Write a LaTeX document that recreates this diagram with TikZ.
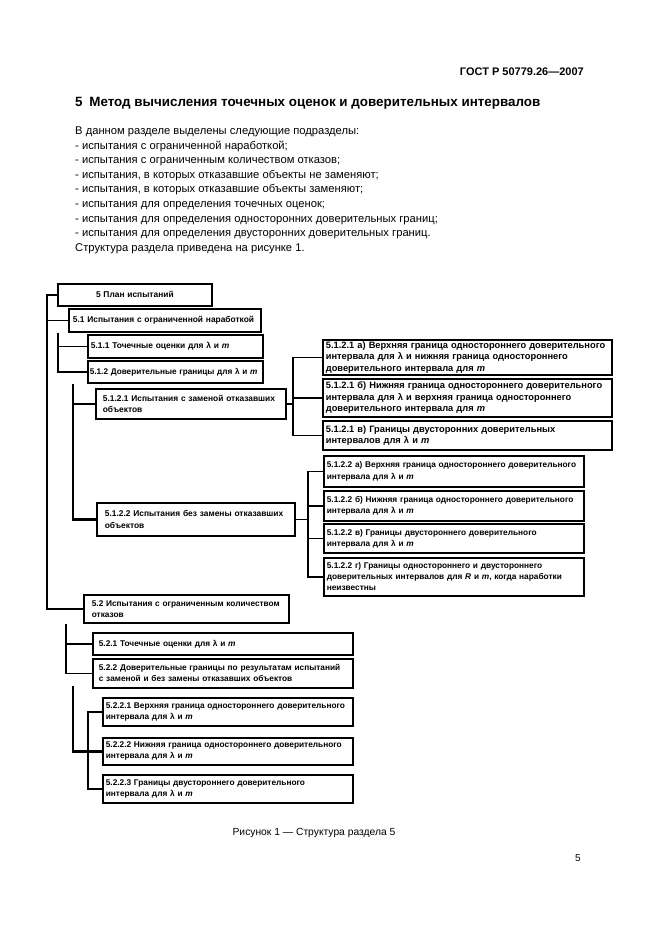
\documentclass[tikz,border=0pt]{standalone}
\usepackage{fontspec}
\setmainfont{Liberation Sans}

\newcommand{\bxa}{\fontsize{8.4}{11.5}\selectfont\bfseries}
\newcommand{\bxb}{\fontsize{8.3}{11}\selectfont\bfseries}
\newcommand{\bxc}{\fontsize{9.3}{11.5}\selectfont\bfseries}

\tikzset{
  box/.style={draw, line width=1.7pt, anchor=north west, align=left, inner ysep=1pt, font=\bxa},
  link/.style={line width=1.5pt},
  trunk/.style={line width=2.3pt},
  txt/.style={inner sep=0pt}
}

\begin{document}
\begin{tikzpicture}[x=1pt,y=-1pt]
				\useasboundingbox (0,0) rectangle (661,936);
				% page text
				\node[txt, anchor=base east, font=\bfseries\fontsize{11}{13}\selectfont] (hdr) at (584,76) {ГОСТ Р 50779.26—2007};
				\node[txt, anchor=base west, font=\bfseries\fontsize{13.4}{16}\selectfont] (ttl) at (75,107) {5\hspace{0.5em}Метод вычисления точечных оценок и доверительных интервалов};
				\foreach \t [count=\i] in {{В данном разделе выделены следующие подразделы:},
						{- испытания с ограниченной наработкой;},
						{- испытания с ограниченным количеством отказов;},
						{- испытания, в которых отказавшие объекты не заменяют;},
						{- испытания, в которых отказавшие объекты заменяют;},
						{- испытания для определения точечных оценок;},
						{- испытания для определения односторонних доверительных границ;},
						{- испытания для определения двусторонних доверительных границ.},
						{Структура раздела приведена на рисунке 1.}}
					\node[txt, anchor=base west, font=\fontsize{11.2}{13}\selectfont] (ln\i) at (75,120.5+14.5*\i) {\t};
				% boxes
				\node[box, align=center, text width=146pt, inner xsep=4pt, minimum height=22pt] (p5) at (57,283) {5 План испытаний};
				\node[box, text width=184pt, inner xsep=4pt, minimum height=23pt] (p51) at (68,308) {5.1 Испытания с ограниченной наработкой};
				\node[box, text width=169pt, inner xsep=3pt, minimum height=23pt] (p511) at (87,334) {5.1.1 Точечные оценки для λ и \textit{m}};
				\node[box, font=\fontsize{8.2}{11}\selectfont\bfseries, text width=171pt, inner xsep=2pt, minimum height=22pt] (p512) at (87,360) {5.1.2 Доверительные границы для λ и \textit{m}};
				\node[box, text width=176pt, inner xsep=7pt, minimum height=30pt] (p5121) at (95,388) {5.1.2.1 Испытания с заменой отказавших\\объектов};
				\node[box, text width=182pt, inner xsep=8pt, minimum height=33pt] (p5122) at (96,502) {5.1.2.2 Испытания без замены отказавших\\объектов};
				\node[box, font=\bxc, text width=283pt, inner xsep=3pt, minimum height=35pt] (a1) at (322,339) {5.1.2.1 а) Верхняя граница одностороннего доверительного\\интервала для λ и нижняя граница одностороннего\\доверительного интервала для \textit{m}};
				\node[box, font=\bxc, text width=283pt, inner xsep=3pt, minimum height=38pt] (b1) at (322,378) {5.1.2.1 б) Нижняя граница одностороннего доверительного\\интервала для λ и верхняя граница одностороннего\\доверительного интервала для \textit{m}};
				\node[box, font=\bxc, text width=283pt, inner xsep=3pt, minimum height=29pt] (c1) at (322,420) {5.1.2.1 в) Границы двусторонних доверительных\\интервалов для λ и \textit{m}};
				\node[box, font=\bxb, text width=254pt, inner xsep=3pt, minimum height=31pt] (a2) at (323,455) {5.1.2.2 а) Верхняя граница одностороннего доверительного\\интервала для λ и \textit{m}};
				\node[box, font=\bxb, text width=254pt, inner xsep=3pt, minimum height=30pt] (b2) at (323,490) {5.1.2.2 б) Нижняя граница одностороннего доверительного\\интервала для λ и \textit{m}};
				\node[box, font=\bxb, text width=254pt, inner xsep=3pt, minimum height=29pt] (c2) at (323,523) {5.1.2.2 в) Границы двустороннего доверительного\\интервала для λ и \textit{m}};
				\node[box, font=\bxb, text width=254pt, inner xsep=3pt, minimum height=38pt] (d2) at (323,557) {5.1.2.2 г) Границы одностороннего и двустороннего\\доверительных интервалов для \textit{R} и \textit{m}, когда наработки\\неизвестны};
				\node[box, font=\bxb, text width=189pt, inner xsep=8pt, minimum height=28pt] (p52) at (83,594) {5.2 Испытания с ограниченным количеством\\отказов};
				\node[box, font=\bxb, text width=248pt, inner xsep=6pt, minimum height=22pt] (p521) at (92,632) {5.2.1 Точечные оценки для λ и \textit{m}};
				\node[box, font=\bxb, text width=248pt, inner xsep=6pt, minimum height=29pt] (p522) at (92,658) {5.2.2 Доверительные границы по результатам испытаний\\с заменой и без замены отказавших объектов};
				\node[box, font=\bxb, text width=244pt, inner xsep=3pt, minimum height=28pt] (q1) at (102,697) {5.2.2.1 Верхняя граница одностороннего доверительного\\интервала для λ и \textit{m}};
				\node[box, font=\bxb, text width=244pt, inner xsep=3pt, minimum height=27pt] (q2) at (102,737) {5.2.2.2 Нижняя граница одностороннего доверительного\\интервала для λ и \textit{m}};
				\node[box, font=\bxb, text width=244pt, inner xsep=3pt, minimum height=28pt] (q3) at (102,774) {5.2.2.3 Границы двустороннего доверительного\\интервала для λ и \textit{m}};
				% trunks
				\coordinate (m0) at (47,0);
				\coordinate (m1) at (58,0);
				\coordinate (m2) at (73,0);
				\coordinate (m3) at (66,0);
				\coordinate (m4) at (73,0);
				\coordinate (m5) at (88,0);
				\coordinate (r1) at (293,0);
				\coordinate (r2) at (308,0);
				% connectors
				\draw[link] (p5.west) -| (m0 |- p52.west) -- (p52.west);
				\draw[link] (m0 |- p51.west) -- (p51.west);
				\draw[link] (m1 |- p51.south) -- (m1 |- p512.west) -- (p512.west);
				\draw[link] (m1 |- p511.west) -- (p511.west);
				\draw[trunk] (m2 |- p512.south) -- (m2 |- p5122.west) -- (p5122.west);
				\draw[link] (m2 |- p5121.west) -- (p5121.west);
				\draw[link] (p5121.east) -- (r1 |- p5121.east);
				\draw[link] (a1.west) -| (r1 |- c1.west) -- (c1.west);
				\draw[link] (r1 |- b1.west) -- (b1.west);
				\draw[link] (p5122.east) -- (r2 |- p5122.east);
				\draw[link] (a2.west) -| (r2 |- d2.west) -- (d2.west);
				\draw[link] (r2 |- b2.west) -- (b2.west);
				\draw[link] (r2 |- c2.west) -- (c2.west);
				\draw[link] (m3 |- p52.south) -- (m3 |- p522.west) -- (p522.west);
				\draw[link] (m3 |- p521.west) -- (p521.west);
				\draw[trunk] ([yshift=3pt]m4 |- p522.south) -- (m4 |- q2.west) -- (q2.west);
				\draw[link] (q1.west) -| (m5 |- q3.west) -- (q3.west);
				% caption
				\node[txt, anchor=base, font=\fontsize{10.3}{12}\selectfont] (cap) at (314,835) {Рисунок 1 — Структура раздела 5};
				\node[txt, anchor=base, font=\fontsize{10}{12}\selectfont] (pg) at (578,861) {5};
\end{tikzpicture}
\end{document}
